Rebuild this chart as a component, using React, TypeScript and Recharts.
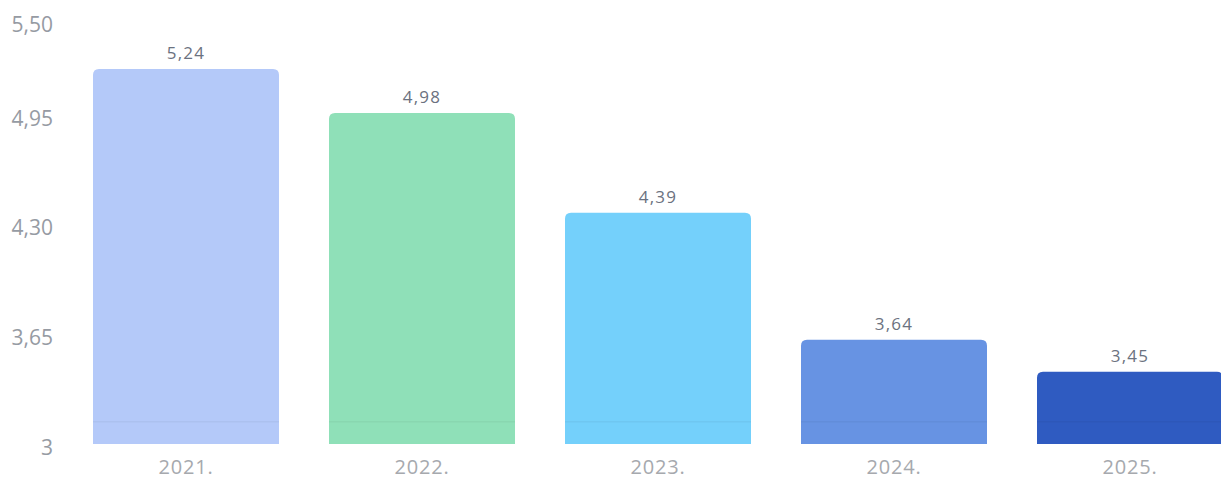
import React from "react";
import { BarChart, Bar, XAxis, YAxis, Cell, LabelList } from "recharts";

const categories = ["2021.", "2022.", "2023.", "2024.", "2025."];
const values = [5.24, 4.98, 4.39, 3.64, 3.45];
const barColors = ["#b4c9f9", "#8fe0b8", "#74d0fb", "#6793e3", "#2f5bc1"];
const yTicks = [3, 3.65, 4.3, 4.95, 5.5];
const yTickLabels = ["3", "3,65", "4,30", "4,95", "5,50"];

const data = categories.map((c, i) => ({ year: c, value: values[i] }));

const FONT = "'Open Sans', 'Noto Sans', sans-serif";

const RoundedBar = (props: any) => {
  const { x, y, width, height, fill } = props;
  const h = Math.max(0, height - 4);
  const r = Math.min(6, h / 2);
  const d = `M${x},${y + h} L${x},${y + r} Q${x},${y} ${x + r},${y} L${x + width - r},${y} Q${x + width},${y} ${x + width},${y + r} L${x + width},${y + h} Z`;
  return (
    <g>
      <path d={d} fill={fill} />
      <rect x={x} y={y + h - 23} width={width} height={1.5} fill="#000" opacity={0.04} />
    </g>
  );
};

const fmt = (v: number) => v.toFixed(2).replace(".", ",");

export default function App() {
  return (
    <div style={{ position: "absolute", left: 0, top: 0, width: 1221, height: 482, overflow: "hidden", background: "#fff" }}>
      <BarChart
        width={1248}
        height={482}
        data={data}
        margin={{ top: 25, right: 0, bottom: 0, left: 0 }}
      >
        <XAxis
          dataKey="year"
          axisLine={false}
          tickLine={false}
          height={34}
          tickMargin={6}
          tick={{ fill: "#a6a9ae", fontSize: 20, fontFamily: FONT, letterSpacing: 0.8 }}
        />
        <YAxis
          type="number"
          domain={[3, 5.5]}
          ticks={yTicks}
          interval={0}
          axisLine={false}
          tickLine={false}
          width={68}
          tickMargin={9}
          tickFormatter={(v: number) => yTickLabels[yTicks.indexOf(v)] ?? String(v)}
          tick={{ fill: "#969ba3", fontSize: 21, fontFamily: FONT }}
        />
        <Bar dataKey="value" barSize={186} isAnimationActive={false} shape={<RoundedBar />}>
          {data.map((d, i) => (
            <Cell key={d.year} fill={barColors[i]} />
          ))}
          <LabelList
            dataKey="value"
            position="top"
            offset={10}
            formatter={(v: number) => fmt(v)}
            style={{ fill: "#6b7280", fontSize: 17, fontFamily: FONT, letterSpacing: 1.2 }}
          />
        </Bar>
      </BarChart>
    </div>
  );
}
